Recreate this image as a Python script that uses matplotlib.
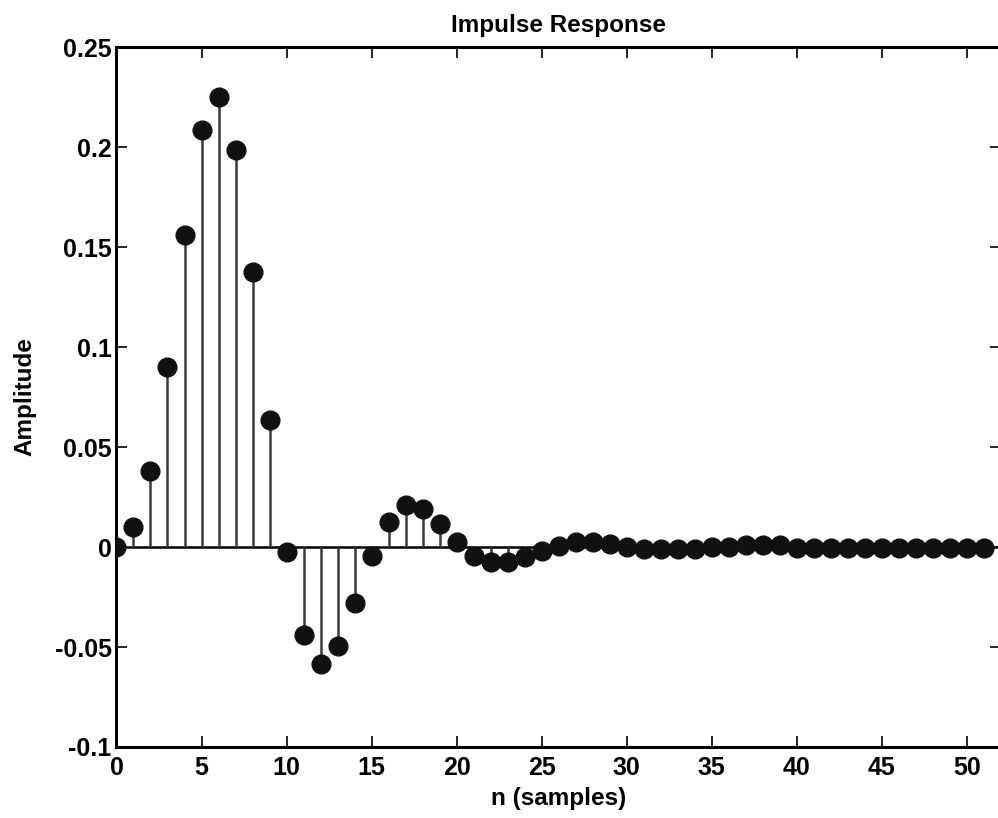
import numpy as np
import matplotlib
matplotlib.use('Agg')
import matplotlib.pyplot as plt

plt.rcParams['font.family'] = ['Liberation Sans', 'DejaVu Sans']
plt.rcParams['font.weight'] = 'bold'

# impulse response samples
n = np.arange(52)
h = [0.0, 0.010, 0.038, 0.090, 0.156, 0.2085, 0.225, 0.1985, 0.1375, 0.0635,
     -0.0025, -0.044, -0.0585, -0.0495, -0.028, -0.0045, 0.0125, 0.021, 0.019, 0.0115,
     0.0025, -0.0045, -0.0075, -0.0075, -0.005, -0.002, 0.0005, 0.0027, 0.0027, 0.0015,
     0.0, -0.0008, -0.0012, -0.0012, -0.001, 0.0, 0.0, 0.001, 0.0008, 0.0008,
     -0.0003, -0.0005, -0.0005, -0.0005, -0.0004, -0.0004, -0.0004, -0.0003, -0.0003, -0.0003,
     -0.0003, -0.0003]
xticks = np.arange(0, 55, 5)
yticks = [-0.1, -0.05, 0, 0.05, 0.1, 0.15, 0.2, 0.25]
yticklabels = ['-0.1', '-0.05', '0', '0.05', '0.1', '0.15', '0.2', '0.25']

fig = plt.figure(figsize=(9.98, 8.18), dpi=100)
ax = fig.add_axes([0.1167, 0.0868, 0.8863, 0.8557])

ax.axhline(0, color='black', lw=1.8, zorder=1)
ml, sl, bl = ax.stem(n, h, basefmt=' ')
plt.setp(sl, color='#3a3a3a', linewidth=1.8)
plt.setp(ml, color='#111111', markersize=13.5, zorder=3)

ax.set_xlim(0, 52)
ax.set_ylim(-0.1, 0.25)
ax.set_xticks(xticks)
ax.set_yticks(yticks)
ax.set_yticklabels(yticklabels)
ax.tick_params(direction='in', length=8, width=1.2, top=True, right=True,
               labelsize=18)
ax.tick_params(axis='x', pad=6.5)
ax.tick_params(axis='y', pad=3.5)
for s in ax.spines.values():
    s.set_linewidth(2.2)

ax.set_title('Impulse Response', fontsize=17.5, fontweight='bold', pad=11)
ax.set_xlabel('n (samples)', fontsize=17.5, fontweight='bold', labelpad=5)
ax.set_ylabel('Amplitude', fontsize=17.5, fontweight='bold', labelpad=13)

plt.savefig('out.png', dpi=100)
